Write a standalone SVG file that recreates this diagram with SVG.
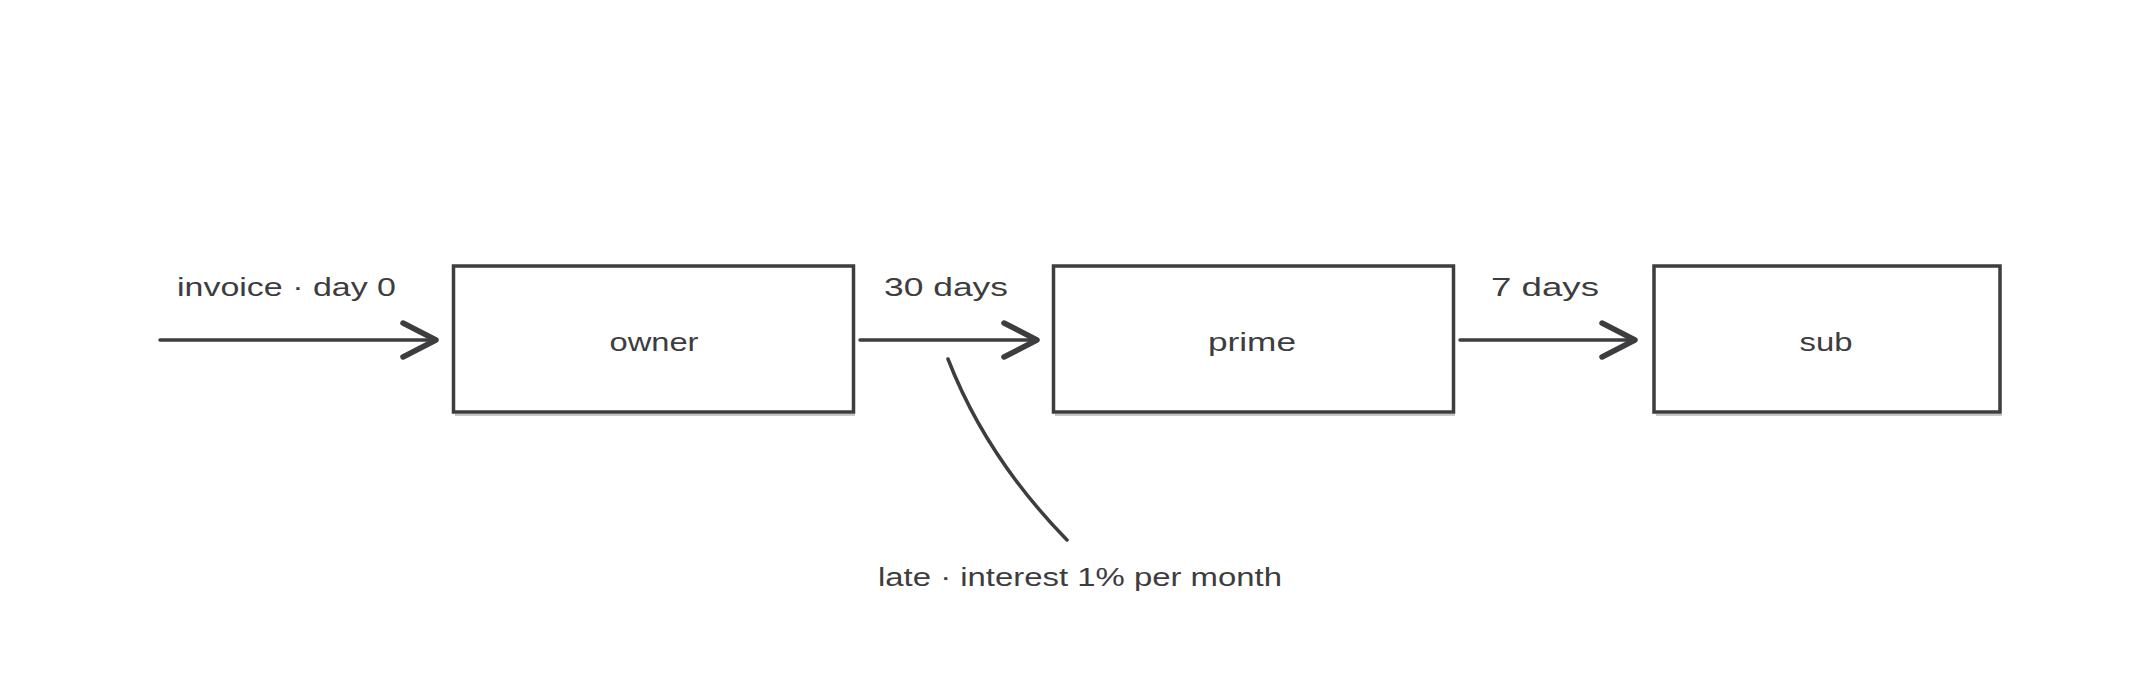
<svg xmlns="http://www.w3.org/2000/svg" width="2133" height="693" viewBox="0 0 2133 693">
<style>
.box{fill:#fff;stroke:#3d3d40;stroke-width:3.5}
.shadow{fill:none;stroke:#c8c8c8;stroke-width:2}
.edge{fill:none;stroke:#3d3d40;stroke-width:3.5;stroke-linecap:round}
.txt{font-family:"Liberation Sans","DejaVu Sans",sans-serif;font-size:26px;fill:#3d3d40}
.mid{text-anchor:middle}
</style>
<defs>
<marker id="arr" markerUnits="userSpaceOnUse" markerWidth="60" markerHeight="60" viewBox="-45 -30 60 60" refX="0" refY="0" orient="auto" overflow="visible">
<path d="M-33,-17 L0,0 L-33,17" fill="none" stroke="#3d3d40" stroke-width="5.5" stroke-linecap="round" stroke-linejoin="round"/>
</marker>
</defs>
<rect width="2133" height="693" fill="#fff"/>
<g id="owner">
<line class="shadow" x1="455" y1="415" x2="855" y2="415"/>
<rect class="box" x="453.5" y="266" width="400" height="146"/>
<text class="txt mid" x="654" y="351" textLength="89" lengthAdjust="spacingAndGlyphs">owner</text>
</g>
<g id="prime">
<line class="shadow" x1="1055" y1="415" x2="1455" y2="415"/>
<rect class="box" x="1053.5" y="266" width="400" height="146"/>
<text class="txt mid" x="1252" y="351" textLength="88" lengthAdjust="spacingAndGlyphs">prime</text>
</g>
<g id="sub">
<line class="shadow" x1="1656" y1="415" x2="2002" y2="415"/>
<rect class="box" x="1654" y="266" width="346" height="146"/>
<text class="txt mid" x="1826" y="351" textLength="53" lengthAdjust="spacingAndGlyphs">sub</text>
</g>
<g id="connectors">
<line class="edge" x1="160" y1="340" x2="436" y2="340" marker-end="url(#arr)"/>
<text class="txt" x="177" y="296" textLength="219" lengthAdjust="spacingAndGlyphs">invoice · day 0</text>
<line class="edge" x1="860" y1="340" x2="1037" y2="340" marker-end="url(#arr)"/>
<text class="txt" x="884" y="296" textLength="124" lengthAdjust="spacingAndGlyphs">30 days</text>
<line class="edge" x1="1460" y1="340" x2="1635" y2="340" marker-end="url(#arr)"/>
<text class="txt" x="1491" y="296" textLength="108" lengthAdjust="spacingAndGlyphs">7 days</text>
<path class="edge" d="M948,359 Q986,457 1067,540" stroke-width="3"/>
<text class="txt" x="878" y="586" textLength="404" lengthAdjust="spacingAndGlyphs">late · interest 1% per month</text>
</g>
</svg>
